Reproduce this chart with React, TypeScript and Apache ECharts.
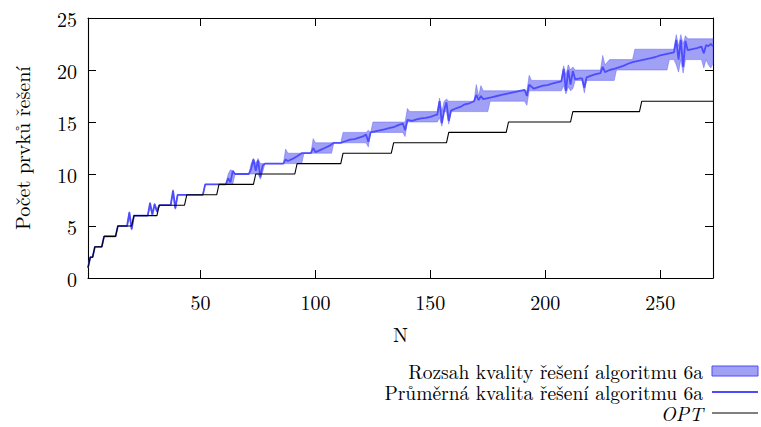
import React, { useEffect, useRef } from "react";
import * as echarts from "echarts";

// ---- data ----
const xTicks = [50, 100, 150, 200, 250];

// OPT: step starts (N) and the value held from that N
const optStartN = [1, 2, 4, 8, 14, 21, 32, 44, 58, 74, 92, 112, 134, 158, 184, 212, 242];
const optValue = [1, 2, 3, 4, 5, 6, 7, 8, 9, 10, 11, 12, 13, 14, 15, 16, 17];
const lastN = 273;

// Average quality of algorithm 6a (N, value)
const avgPoints: number[][] = [
  [1, 1], [2, 2], [3, 2], [4, 3], [7, 3], [8, 4], [13, 4], [14, 5], [18, 5], [19, 6.3], [20, 4.7], [21, 6],
  [27, 6], [28, 7.2], [29, 6.1], [30, 7.1], [31, 6.4], [32, 7], [37, 7], [38, 8.4], [39, 6.7], [40, 8],
  [51, 8], [52, 9], [61, 9], [62, 9.6], [63, 9.2], [64, 10.3], [65, 10], [71, 10], [72, 10.5], [73, 11.4],
  [74, 10.3], [75, 11.3], [76, 9.7], [77, 10.8], [78, 11], [86, 11], [87, 11.4], [88, 11.25], [90, 11.45],
  [92, 11.7], [94, 12], [98, 12], [99, 12.5], [100, 12.1], [102, 12.3], [104, 12.5], [106, 12.7], [108, 13],
  [111, 13], [113, 13.15], [115, 13.3], [117, 13.35], [119, 13.5], [121, 13.65], [122, 13.8], [123, 13.1],
  [124, 14], [126, 14.1], [128, 14.2], [130, 14.3], [132, 14.4], [134, 14.5], [136, 14.7], [138, 14.85],
  [139, 14.2], [140, 15.2], [142, 15.1], [144, 15.25], [146, 15.35], [148, 15.4], [150, 15.5], [152, 15.65],
  [153, 15.7], [154, 17.0], [155, 14.9], [156, 16.1], [157, 16.9], [158, 15.1], [159, 16.1], [161, 16.3],
  [163, 16.45], [165, 16.7], [167, 16.8], [169, 17.0], [170, 17.6], [171, 17.1], [172, 17.5], [173, 17.2],
  [175, 17.3], [177, 17.4], [179, 17.5], [181, 17.6], [183, 17.7], [185, 17.8], [187, 17.9], [189, 18.0],
  [191, 18.1], [192, 17.5], [193, 18.6], [195, 18.2], [197, 18.35], [199, 18.5], [201, 18.55], [203, 18.7],
  [205, 18.8], [207, 18.9], [208, 20.1], [209, 18.0], [210, 20.0], [211, 18.6], [212, 19.9], [213, 19.1],
  [215, 19.2], [216, 19.2], [217, 18.3], [218, 19.3], [220, 19.45], [222, 19.6], [224, 19.7], [225, 20.3],
  [226, 19.8], [228, 20.0], [230, 20.1], [232, 20.25], [234, 20.4], [236, 20.6], [238, 20.75], [240, 20.85],
  [242, 20.95], [244, 21.05], [246, 21.15], [248, 21.25], [250, 21.4], [252, 21.5], [254, 21.6], [256, 21.7],
  [257, 22.9], [258, 21.0], [259, 22.9], [260, 20.3], [261, 22.8], [262, 21.9], [264, 22.0], [266, 22.1],
  [268, 22.25], [269, 21.6], [270, 22.4], [271, 22.3], [272, 22.5], [273, 22.3],
];

// Range of quality: upper (max) and lower (min) boundaries (N, value)
const bandUpper: number[][] = [
  [1, 1], [2, 2], [3, 2], [4, 3], [7, 3], [8, 4], [13, 4], [14, 5], [18, 5], [19, 6.4], [20, 5], [21, 6],
  [27, 6], [28, 7.3], [29, 6.3], [30, 7.2], [31, 6.6], [32, 7], [37, 7], [38, 8.5], [39, 7], [40, 8],
  [51, 8], [52, 9], [61, 9], [62, 10], [63, 10.4], [64, 10.3], [65, 10], [71, 10], [72, 11], [73, 11.5],
  [74, 11], [75, 11.5], [76, 11], [86, 11], [87, 12.4], [88, 12], [98, 12], [99, 13.4], [100, 13],
  [111, 13], [112, 14], [122, 14], [123, 14.2], [124, 14], [125, 15], [139, 15], [140, 16.3], [141, 16],
  [153, 16], [154, 17.3], [155, 16], [156, 17], [157, 17.2], [158, 17], [169, 17], [170, 18.6], [171, 17.5],
  [172, 18.5], [173, 18], [192, 18], [193, 19.5], [194, 19], [207, 19], [208, 20.4], [209, 19.5],
  [210, 20.5], [211, 20], [212, 20.3], [213, 20], [224, 20], [225, 21.4], [226, 20.5], [228, 21],
  [238, 21], [239, 22], [256, 22], [257, 23.4], [258, 22.3], [259, 23.4], [260, 22.5], [261, 23.3],
  [262, 23], [273, 23],
];
const bandLower: number[][] = [
  [1, 1], [2, 2], [3, 2], [4, 3], [7, 3], [8, 4], [13, 4], [14, 5], [18, 5], [19, 5.8], [20, 4.6], [21, 6],
  [27, 6], [28, 6.8], [29, 6], [30, 6.9], [31, 6.3], [32, 7], [37, 7], [38, 8], [39, 6.6], [40, 8],
  [51, 8], [52, 9], [64, 9], [65, 10], [75, 10], [76, 9.5], [77, 10.2], [78, 11], [94, 11], [95, 12],
  [107, 12], [108, 13], [122, 13], [123, 12.6], [124, 14], [138, 14], [139, 13.6], [140, 15], [153, 15],
  [154, 15.4], [155, 14.6], [156, 16], [157, 16], [158, 14.8], [159, 16], [175, 16], [176, 17], [191, 17],
  [192, 16.6], [193, 18], [207, 18], [208, 18.5], [209, 17.7], [210, 18.4], [211, 18], [212, 18.2],
  [213, 19], [216, 19], [217, 17.8], [218, 19], [230, 19], [231, 20], [253, 20], [254, 21], [256, 21],
  [257, 20.5], [258, 19.8], [259, 21], [260, 19.7], [261, 21], [268, 21], [269, 20.2], [270, 21],
  [271, 20.5], [272, 20.2], [273, 20.6],
];

const legendRange = "Rozsah kvality řešení algoritmu 6a";
const legendAvg = "Průměrná kvalita řešení algoritmu 6a";
const legendOpt = "OPT";
const xName = "N";
const yName = "Počet prvků řešení";

const FONT = "Latin Modern Roman";
const FS = 20;
const LEGEND_FS = 19.5;
const BLUE = "#4d4dff";
const BAND = "#a0a0f5";

function optVertices(): number[][] {
  const pts: number[][] = [];
  for (let i = 0; i < optStartN.length; i++) {
    const end = i + 1 < optStartN.length ? optStartN[i + 1] - 1 : lastN;
    pts.push([optStartN[i], optValue[i]]);
    if (end > optStartN[i]) pts.push([end, optValue[i]]);
  }
  return pts;
}

function legendText(text: string, y: number, italic = false) {
  return {
    type: "text", x: 703, y,
    style: {
      text, fontFamily: FONT, fontSize: LEGEND_FS, lineHeight: 19,
      fontStyle: italic ? "italic" : "normal", fill: "#000",
      align: "right", verticalAlign: "middle", textAlign: "right", textVerticalAlign: "middle",
    },
  };
}

export default function App() {
  const ref = useRef<HTMLDivElement>(null);
  useEffect(() => {
    if (!ref.current) return;
    const chart = echarts.init(ref.current, undefined, { renderer: "svg" });
    const axisCommon = {
      axisLine: { onZero: false, lineStyle: { color: "#000", width: 1.1 } },
      splitLine: { show: false },
    };
    const txt = { color: "#000", fontSize: FS, fontFamily: FONT };
    const option: any = {
      animation: false,
      textStyle: { fontFamily: FONT },
      grid: { left: 88, right: 48, top: 18, bottom: 149 },
      xAxis: [
        {
          type: "value", min: 1, max: lastN, position: "bottom", ...axisCommon,
          axisTick: { inside: true, length: 8, customValues: xTicks, lineStyle: { color: "#000" } },
          axisLabel: { customValues: xTicks, margin: 13, ...txt },
          name: xName, nameLocation: "middle", nameGap: 45, nameTextStyle: txt,
        },
        {
          type: "value", min: 1, max: lastN, position: "top", ...axisCommon,
          axisTick: { inside: true, length: 8, customValues: xTicks, lineStyle: { color: "#000" } },
          axisLabel: { show: false },
        },
      ],
      yAxis: [
        {
          type: "value", min: 0, max: 25, interval: 5, position: "left", ...axisCommon,
          axisTick: { inside: true, length: 8, lineStyle: { color: "#000" } },
          axisLabel: { margin: 11, ...txt },
          name: yName, nameLocation: "middle", nameGap: 57, nameTextStyle: txt,
        },
        {
          type: "value", min: 0, max: 25, interval: 5, position: "right", ...axisCommon,
          axisTick: { inside: true, length: 8, lineStyle: { color: "#000" } },
          axisLabel: { show: false },
        },
      ],
      series: [
        {
          type: "custom",
          name: legendRange,
          xAxisIndex: 0, yAxisIndex: 0,
          data: [[1, 1]],
          z: 1,
          renderItem: (_params: any, api: any) => {
            const up = bandUpper.map((p) => api.coord(p));
            const lo = bandLower.slice().reverse().map((p) => api.coord(p));
            return {
              type: "polygon",
              shape: { points: up.concat(lo) },
              style: { fill: BAND, stroke: "rgba(90,90,250,0.55)", lineWidth: 0.8 },
            };
          },
        },
        {
          type: "line", name: legendAvg, data: avgPoints, showSymbol: false, symbol: "none",
          lineStyle: { color: BLUE, width: 1.8 }, z: 2,
        },
        {
          type: "line", name: legendOpt, data: optVertices(), showSymbol: false, symbol: "none",
          lineStyle: { color: "#000", width: 1.1 }, z: 3,
        },
      ],
      graphic: [
        legendText(legendRange, 371),
        legendText(legendAvg, 392),
        legendText(legendOpt, 413, true),
        { type: "rect", shape: { x: 712, y: 366, width: 46, height: 10 }, style: { fill: BAND, stroke: BLUE, lineWidth: 1 } },
        { type: "line", shape: { x1: 712, y1: 392, x2: 758, y2: 392 }, style: { stroke: BLUE, lineWidth: 2 } },
        { type: "line", shape: { x1: 712, y1: 413, x2: 758, y2: 413 }, style: { stroke: "#000", lineWidth: 1 } },
      ],
    };
    chart.setOption(option);
    return () => chart.dispose();
  }, []);
  return <div ref={ref} style={{ width: 761, height: 427, position: "absolute", left: 0, top: 0 }} />;
}
